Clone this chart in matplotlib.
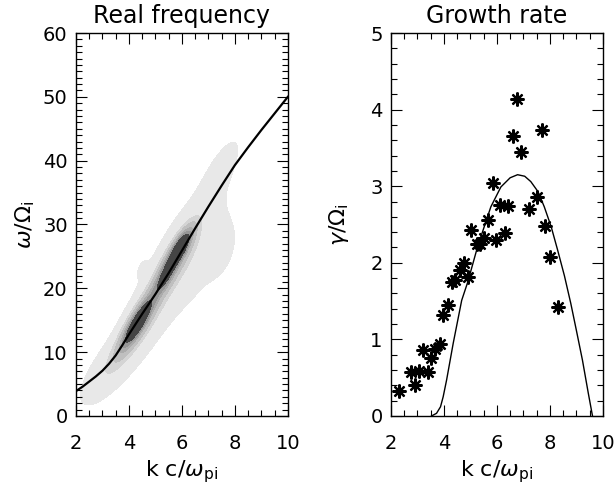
import numpy as np
import matplotlib
matplotlib.use("Agg")
import matplotlib.pyplot as plt
from matplotlib.colors import ListedColormap
from matplotlib.ticker import MultipleLocator

plt.rcParams['font.family'] = ['DejaVu Sans']
plt.rcParams['mathtext.fontset'] = 'dejavusans'

# left panel: dispersion curve (real frequency)
k_line = [2.0, 2.25, 2.5, 2.75, 3.0, 3.25, 3.5, 3.75, 4.0, 4.5, 5.0, 5.5, 6.0, 6.5, 7.0, 7.5,
          8.0, 8.5, 9.0, 9.5, 10.0]
w_line = [3.9, 4.6, 5.4, 6.2, 7.1, 8.2, 9.5, 11.1, 12.8, 16.0, 19.1, 22.4, 25.9, 29.4, 32.8,
          36.1, 39.3, 42.1, 44.8, 47.4, 50.0]

# density blobs of the simulated spectrum:
# centre k, centre w, weight, sd along ridge, sd across ridge, ridge slope (dw/dk)
blob_k = [4.3, 5.35, 5.92, 4.35, 5.65, 3.2, 4.8, 6.4, 7.4, 7.4, 4.5]
blob_w = [14.5, 21.8, 26.3, 14.5, 24.0, 7.5, 16.0, 26.0, 38.0, 26.0, 23.0]
blob_amp = [0.75, 0.45, 0.9, 0.4, 0.4, 0.13, 0.13, 0.10, 0.07, 0.08, 0.04]
blob_along = [0.55, 0.35, 0.42, 0.75, 0.8, 0.7, 1.2, 1.0, 0.7, 0.4, 0.2]
blob_across = [0.15, 0.14, 0.14, 0.22, 0.24, 0.25, 0.35, 0.55, 0.25, 0.28, 0.12]
blob_slope = [6.5, 6.5, 6.5, 6.5, 6.5, 5.0, 6.5, 6.5, 7.0, 7.0, 7.0]

# right panel: growth rate
k_gam = [3.53, 3.72, 3.87, 3.97, 4.1, 4.35, 4.67, 4.9, 5.27, 5.77, 6.15, 6.5, 6.78, 7.05, 7.28,
         7.55, 7.79, 8.05, 8.29, 8.55, 8.79, 9.0, 9.23, 9.45, 9.61]
gam_line = [0.0, 0.035, 0.12, 0.25, 0.47, 0.95, 1.51, 1.75, 2.21, 2.73, 2.99, 3.11, 3.15, 3.13,
            3.06, 2.93, 2.73, 2.47, 2.17, 1.83, 1.47, 1.12, 0.73, 0.30, 0.0]

k_pts = [2.29, 2.91, 2.75, 3.07, 3.38, 3.22, 3.52, 3.67, 3.84, 3.97, 4.14, 4.30, 4.42, 4.60,
         4.75, 4.91, 5.04, 5.25, 5.36, 5.52, 5.67, 5.97, 6.29, 5.84, 6.11, 6.43, 7.21, 7.52,
         7.82, 8.00, 8.29, 6.77, 6.59, 7.69, 6.91]
gam_pts = [0.33, 0.40, 0.57, 0.59, 0.57, 0.86, 0.76, 0.87, 0.94, 1.32, 1.45, 1.75, 1.77, 1.91,
           2.00, 1.81, 2.43, 2.24, 2.25, 2.33, 2.56, 2.30, 2.39, 3.04, 2.76, 2.74, 2.70, 2.86,
           2.48, 2.07, 1.42, 4.14, 3.66, 3.73, 3.44]

fig = plt.figure(figsize=(6.14, 4.97), dpi=100)
ax1 = fig.add_axes([0.1238, 0.163, 0.345, 0.7706])
ax2 = fig.add_axes([0.6368, 0.163, 0.345, 0.7706])

# density field, built in (k, w/7) space so the ridge is near 45 degrees
kk, ww = np.meshgrid(np.linspace(2, 10, 320), np.linspace(0, 60, 480))
X, Y = kk, ww / 7.0
dens = np.zeros_like(kk)
for cx, cy, a, sa, sc, sl in zip(blob_k, blob_w, blob_amp, blob_along, blob_across, blob_slope):
    th = np.arctan(sl / 7.0)
    dx, dy = X - cx, Y - cy / 7.0
    u = dx * np.cos(th) + dy * np.sin(th)
    v = -dx * np.sin(th) + dy * np.cos(th)
    dens += a * np.exp(-0.5 * ((u / sa) ** 2 + (v / sc) ** 2))
levels = [0.03, 0.05, 0.08, 0.11, 0.15, 0.2, 0.26, 0.33, 0.42, 0.53, 0.68, 0.85, 2.0]
grays = np.linspace(0.91, 0.03, len(levels) - 1)
cmap = ListedColormap([(g, g, g) for g in grays])
ax1.contourf(kk, ww, dens, levels=levels, cmap=cmap)
ax1.plot(k_line, w_line, color='black', lw=1.6)

ax2.plot(k_gam, gam_line, color='black', lw=1.0)
ax2.plot(k_pts, gam_pts, linestyle='none', marker=(8, 2, 0), markersize=10,
         markeredgewidth=1.6, color='black')

for ax, ylim, ymaj, ymin, ylab, title, lp in [
        (ax1, (0, 60), 10, 1, r'$\omega/\Omega_{\rm i}$', 'Real frequency', 4),
        (ax2, (0, 5), 1, 0.2, r'$\gamma/\Omega_{\rm i}$', 'Growth rate', 14)]:
    ax.set_xlim(2, 10)
    ax.set_ylim(*ylim)
    ax.xaxis.set_major_locator(MultipleLocator(2))
    ax.xaxis.set_minor_locator(MultipleLocator(0.5))
    ax.yaxis.set_major_locator(MultipleLocator(ymaj))
    ax.yaxis.set_minor_locator(MultipleLocator(ymin))
    ax.tick_params(which='both', direction='in', top=True, right=True, width=0.8,
                   labelsize=14, colors='black')
    ax.tick_params(which='major', length=8)
    ax.tick_params(which='minor', length=4)
    ax.tick_params(axis='x', which='major', pad=13)
    ax.tick_params(axis='y', which='major', pad=6)
    for s in ax.spines.values():
        s.set_linewidth(1.0)
    ax.set_xlabel(r'k c/$\omega_{\rm pi}$', fontsize=16, labelpad=4)
    ax.set_ylabel(ylab, fontsize=16, labelpad=lp)
    ax.set_title(title, fontsize=17, pad=7)

fig.savefig('out.png', dpi=100)
